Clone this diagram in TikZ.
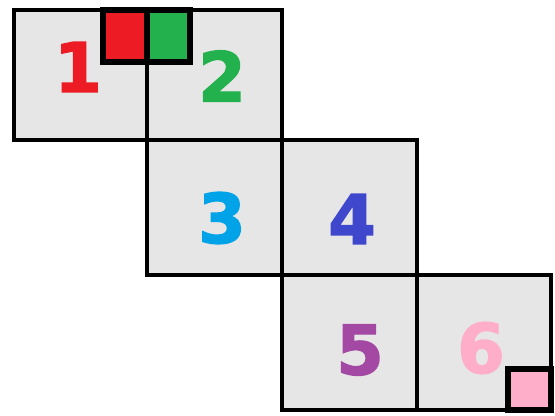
\documentclass[tikz,border=0pt]{standalone}
\usepackage{fontspec}
\setmainfont{DejaVu Sans}
\newfontfamily\xifrafont[FakeBold=2]{DejaVu Sans Bold}
\usepackage{tikz}
\usetikzlibrary{arrows.meta}
\definecolor{fonsgris}{RGB}{230,230,230}
\definecolor{vermell}{RGB}{237,28,36}
\definecolor{verd}{RGB}{34,177,76}
\definecolor{blaucel}{RGB}{0,162,232}
\definecolor{indi}{RGB}{63,72,204}
\definecolor{lila}{RGB}{163,73,164}
\definecolor{rosa}{RGB}{255,174,201}

\begin{document}
\begin{tikzpicture}[x=0.02cm, y=-0.02cm]

\useasboundingbox (0,0) rectangle (555,416);

\tikzset{
    casella/.style={fill=fonsgris, draw=black, line width=2.3pt},
    marca/.style={draw=black, line width=2.9pt},
    xifra/.style={font=\xifrafont\fontsize{39}{39}\selectfont\bfseries, inner sep=0pt}
}

% Caselles

\path[casella] (14,10) rectangle (147,140);
\path[casella] (147,10) rectangle (282,140);
\path[casella] (147,140) rectangle (282,275);
\path[casella] (282,140) rectangle (417,275);
\path[casella] (282,275) rectangle (417,410);
\path[casella] (417,275) rectangle (551,410);


% Xifres

\node[xifra, vermell] (n1) at (78,67) {1};
\node[xifra, verd] (n2) at (222,76) {2};
\node[xifra, blaucel] (n3) at (222,218) {3};
\node[xifra, indi] (n4) at (352,219) {4};
\node[xifra, lila] (n5) at (360,350) {5};
\node[xifra, rosa] (n6) at (481,348) {6};


% Marques

\path[
    marca,
    fill=vermell
] (103,10) rectangle (147,62);

\path[
    marca,
    fill=verd
] (147,10) rectangle (190,62);

\path[
    marca,
    fill=rosa
] (508,369) rectangle (551,410);

\end{tikzpicture}
\end{document}
